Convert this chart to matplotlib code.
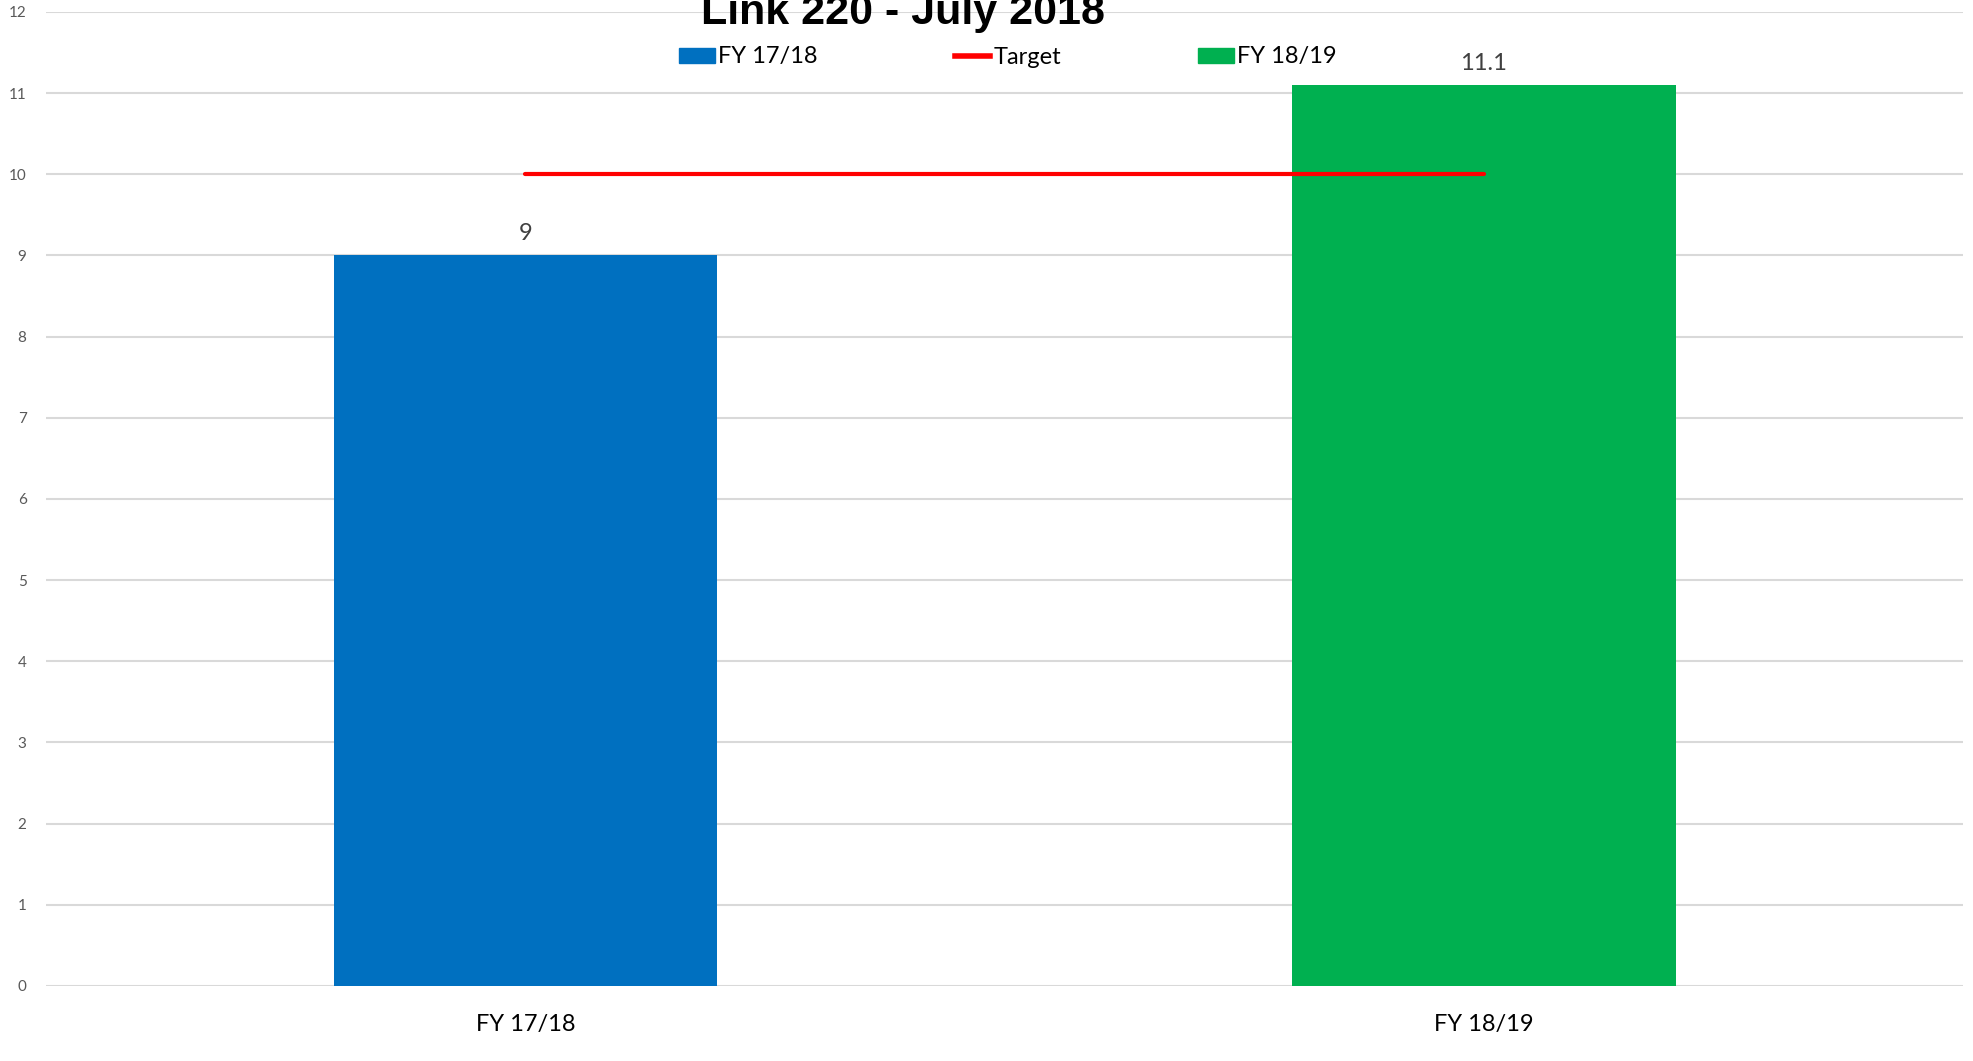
import matplotlib
matplotlib.use('Agg')
from matplotlib import pyplot as plt
from matplotlib.patches import Patch
from matplotlib.lines import Line2D

plt.rcParams['font.family'] = ['Lato', 'DejaVu Sans']

categories = ['FY 17/18', 'FY 18/19']
values = [9, 11.1]
target = [10, 10]
bar_colours = ['#0070C0', '#00B050']
target_colour = '#FF0000'
title = 'Link 220 - July 2018'

fig = plt.figure(figsize=(19.73, 10.61), dpi=100)
ax = fig.add_axes([0.0233, 0.0707, 0.9717, 0.918])

x = list(range(len(categories)))
ax.bar(x, values, width=0.4, color=bar_colours, zorder=2)
ax.plot(x, target, color=target_colour, lw=3, solid_capstyle='round', zorder=3)

for xi, v in zip(x, values):
    ax.annotate(f'{v:g}', (xi, v), xytext=(0, 8), textcoords='offset points',
                ha='center', va='bottom', fontsize=17, color='#404040')

ax.set_xlim(-0.5, 1.5)
ax.set_ylim(0, 12)
ax.set_yticks(range(0, 13))
ax.set_xticks(x)
ax.set_xticklabels(categories, fontsize=17)
ax.tick_params(axis='y', length=0, pad=14, labelsize=11, labelcolor='#595959')
ax.tick_params(axis='x', length=0, pad=20)
ax.grid(axis='y', color='#d9d9d9', lw=1.5, zorder=0)
for s in ax.spines.values():
    s.set_visible(False)

fig.text(0.4575, 1 - 24 / 1061, title, ha='center', va='baseline',
         fontsize=31, fontweight='bold', family='Liberation Sans')

handles = [
    Patch(color=bar_colours[0]),
    Line2D([0], [0], color=target_colour, lw=4),
    Patch(color=bar_colours[1]),
]
labels = ['FY 17/18', 'Target', 'FY 18/19']
fig.legend(handles, labels, loc='center', bbox_to_anchor=(0.511, 1 - 57 / 1061),
           ncol=3, frameon=False, fontsize=17, handlelength=1.5, handleheight=0.6,
           handletextpad=0.15, columnspacing=5.8)

fig.savefig('out.png', dpi=100)
